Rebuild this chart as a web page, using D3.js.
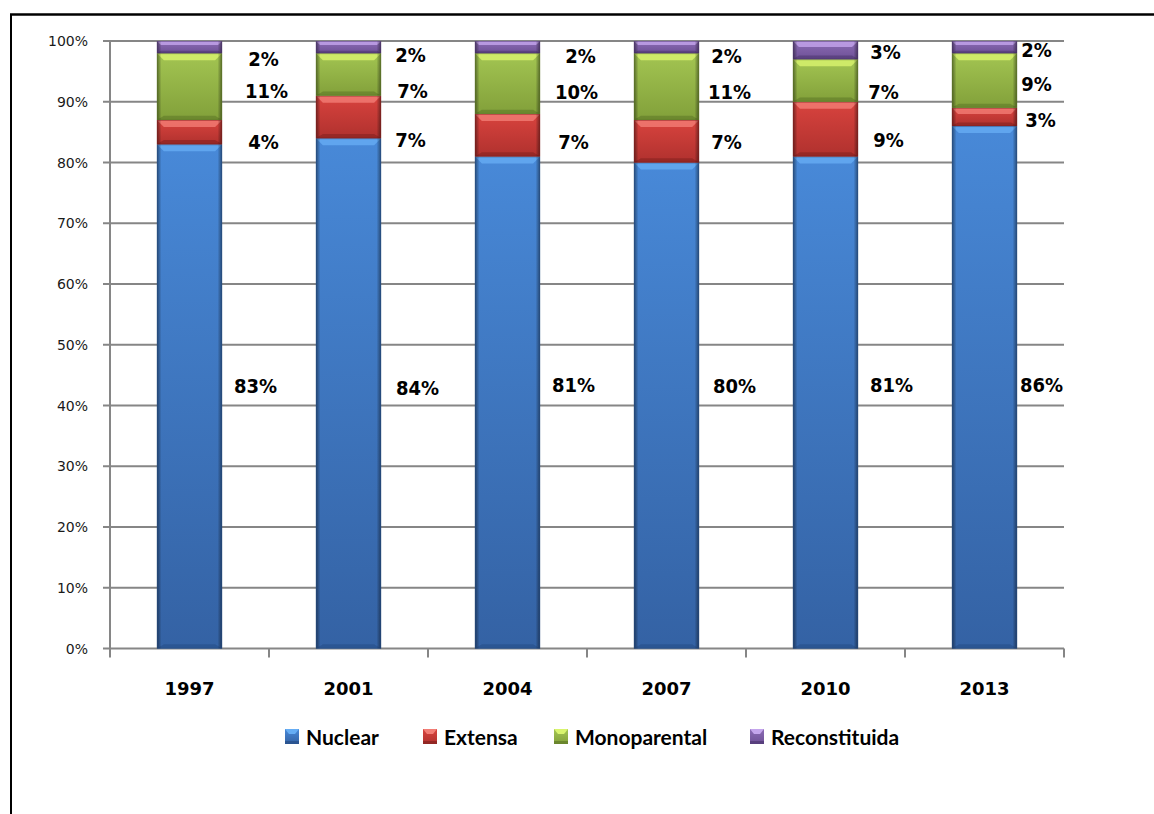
<!DOCTYPE html>
<html>
<head>
<meta charset="utf-8">
<script src="https://cdn.jsdelivr.net/npm/d3@7"></script>
<style>
  html, body { margin: 0; padding: 0; background: #ffffff; }
  svg { display: block; }
</style>
</head>
<body>
<svg id="chart" width="1154" height="814"></svg>
<script>
// Household types by survey year (share of households, %)
const years = ['1997', '2001', '2004', '2007', '2010', '2013'];
const nuclear = [83, 84, 81, 80, 81, 86];
const extensa = [4, 7, 7, 7, 9, 3];
const monoparental = [11, 7, 10, 11, 7, 9];
const reconstituida = [2, 2, 2, 2, 3, 2];
const seriesNames = ['Nuclear', 'Extensa', 'Monoparental', 'Reconstituida'];
const yTicks = [0, 10, 20, 30, 40, 50, 60, 70, 80, 90, 100];

// Hand-placed data labels: horizontal offset from the category centre (px)
// and height on the value axis (%), per year and per series.
const labelDx = [
  [66, 74, 77, 74],
  [69, 62, 64, 62],
  [66, 66, 69, 73],
  [68, 60, 63, 60],
  [66, 63, 58, 60],
  [57, 56, 52, 52]
];
const labelAt = [
  [43.2, 83.5, 91.8, 97.1],
  [42.9, 83.7, 91.8, 97.8],
  [43.5, 83.4, 91.6, 97.5],
  [43.2, 83.4, 91.6, 97.5],
  [43.5, 83.7, 91.6, 98.3],
  [43.4, 87.0, 92.9, 98.6]
];

const seriesValues = [nuclear, extensa, monoparental, reconstituida];

const palette = {
  Nuclear:       { top: '#4889d8', bottom: '#3462a4', light: '#66adf4', dark: '#274f88' },
  Extensa:       { top: '#d8433e', bottom: '#b0312e', light: '#f27d75', dark: '#85221f' },
  Monoparental:  { top: '#a3c552', bottom: '#82a03a', light: '#d9f46e', dark: '#5f7a28' },
  Reconstituida: { top: '#8c6cb5', bottom: '#6e5096', light: '#c4a5ec', dark: '#4f3772' }
};

const svg = d3.select('#chart');
const defs = svg.append('defs');

seriesNames.forEach((name, i) => {
  const g = defs.append('linearGradient')
    .attr('id', 'fill' + i).attr('x1', 0).attr('y1', 0).attr('x2', 0).attr('y2', 1);
  g.append('stop').attr('offset', '0%').attr('stop-color', palette[name].top);
  g.append('stop').attr('offset', '100%').attr('stop-color', palette[name].bottom);
});
const side = defs.append('linearGradient')
  .attr('id', 'sideShade').attr('x1', 0).attr('y1', 0).attr('x2', 1).attr('y2', 0);
[[0, 0.45], [0.07, 0.0], [0.93, 0.0], [1, 0.45]].forEach(([o, a]) => {
  side.append('stop').attr('offset', o).attr('stop-color', '#000').attr('stop-opacity', a);
});

// Outer frame (top and left edges)
svg.append('line').attr('x1', 10).attr('x2', 1154).attr('y1', 14.5).attr('y2', 14.5)
  .attr('stroke', '#000').attr('stroke-width', 2.5);
svg.append('line').attr('x1', 11).attr('x2', 11).attr('y1', 14).attr('y2', 814)
  .attr('stroke', '#000').attr('stroke-width', 2);

const plotLeft = 110, plotRight = 1064, plotTop = 41, plotBottom = 648.5;

const xCat = d3.scaleBand().domain(years).range([plotLeft, plotRight]).padding(0);
const x = d3.scaleBand().domain(years).range([plotLeft, plotRight])
  .paddingInner(0.59).paddingOuter(0.295);
const y = d3.scaleLinear().domain([0, 100]).range([plotBottom, plotTop]);

const gridColor = '#868686';

// Horizontal gridlines with short ticks to the left of the axis
svg.append('g').selectAll('line').data(yTicks).join('line')
  .attr('x1', plotLeft - 7).attr('x2', plotRight)
  .attr('y1', d => y(d)).attr('y2', d => y(d))
  .attr('stroke', gridColor).attr('stroke-width', 2);

// Value axis line
svg.append('line').attr('x1', plotLeft).attr('x2', plotLeft)
  .attr('y1', plotTop).attr('y2', plotBottom + 1)
  .attr('stroke', gridColor).attr('stroke-width', 2);

// Value axis labels
svg.append('g').selectAll('text').data(yTicks).join('text')
  .attr('x', 88).attr('y', d => y(d) + 5)
  .attr('text-anchor', 'end')
  .attr('font-family', 'DejaVu Sans, Verdana, sans-serif')
  .attr('font-size', 14).attr('fill', '#1a1a1a')
  .text(d => d + '%');

// Category tick marks below the axis
const boundaries = years.map(d => xCat(d)).concat([plotRight]);
svg.append('g').selectAll('line').data(boundaries).join('line')
  .attr('x1', d => d).attr('x2', d => d)
  .attr('y1', plotBottom).attr('y2', plotBottom + 9)
  .attr('stroke', gridColor).attr('stroke-width', 2);

// Stacked data
const rows = years.map((yr, i) => {
  const r = { year: yr };
  seriesNames.forEach((s, k) => { r[s] = seriesValues[k][i]; });
  return r;
});
const stacked = d3.stack().keys(seriesNames)(rows);

const barsG = svg.append('g');
stacked.forEach((layer, k) => {
  const name = seriesNames[k];
  const pal = palette[name];
  layer.forEach((seg, i) => {
    const bx = x(years[i]);
    const bw = x.bandwidth();
    const y0 = y(seg[1]);
    const y1 = y(seg[0]);
    const h = y1 - y0;
    const b = Math.min(7, h / 3);
    const g = barsG.append('g');
    g.append('rect').attr('x', bx).attr('y', y0).attr('width', bw).attr('height', h)
      .attr('fill', `url(#fill${k})`);
    // top bevel
    g.append('path')
      .attr('d', `M${bx},${y0}L${bx + bw},${y0}L${bx + bw - b},${y0 + b}L${bx + b},${y0 + b}Z`)
      .attr('fill', pal.light).attr('opacity', 0.8);
    // bottom bevel
    g.append('path')
      .attr('d', `M${bx},${y1}L${bx + bw},${y1}L${bx + bw - b},${y1 - b * 0.6}L${bx + b},${y1 - b * 0.6}Z`)
      .attr('fill', pal.dark).attr('opacity', 0.6);
    // darkened sides
    g.append('rect').attr('x', bx).attr('y', y0).attr('width', bw).attr('height', h)
      .attr('fill', 'url(#sideShade)');
    g.append('rect').attr('x', bx + 0.5).attr('y', y0 + 0.5).attr('width', bw - 1).attr('height', h - 1)
      .attr('fill', 'none').attr('stroke', pal.dark).attr('stroke-opacity', 0.5).attr('stroke-width', 1);
  });
});

// Data labels
const labelsG = svg.append('g')
  .attr('font-family', 'DejaVu Sans Condensed, DejaVu Sans, Verdana, sans-serif')
  .attr('font-stretch', 'condensed')
  .attr('font-weight', 'bold').attr('font-size', 20).attr('fill', '#000');
years.forEach((yr, i) => {
  seriesNames.forEach((s, k) => {
    labelsG.append('text')
      .attr('x', xCat(yr) + xCat.bandwidth() / 2 + labelDx[i][k])
      .attr('y', y(labelAt[i][k]) + 7.3)
      .attr('text-anchor', 'middle')
      .text(seriesValues[k][i] + '%');
  });
});

// Category labels
svg.append('g').selectAll('text').data(years).join('text')
  .attr('x', d => xCat(d) + xCat.bandwidth() / 2)
  .attr('y', 695)
  .attr('text-anchor', 'middle')
  .attr('font-family', 'DejaVu Sans, Verdana, sans-serif')
  .attr('font-weight', 'bold').attr('font-size', 18).attr('fill', '#000')
  .text(d => d);

// Legend
const legendX = [285, 423, 554, 750];
const legend = svg.append('g');
seriesNames.forEach((name, k) => {
  const lx = legendX[k];
  const pal = palette[name];
  legend.append('rect').attr('x', lx).attr('y', 729).attr('width', 14).attr('height', 15)
    .attr('fill', `url(#fill${k})`);
  legend.append('path')
    .attr('d', `M${lx},729L${lx + 14},729L${lx + 10},734L${lx + 4},734Z`)
    .attr('fill', pal.light);
  legend.append('rect').attr('x', lx).attr('y', 741).attr('width', 14).attr('height', 3)
    .attr('fill', pal.dark).attr('opacity', 0.7);
  legend.append('text').attr('x', lx + 21).attr('y', 745)
    .attr('font-family', 'Lato, sans-serif').attr('font-weight', 'bold')
    .attr('font-size', 21).attr('fill', '#000')
    .text(name);
});
</script>
</body>
</html>
